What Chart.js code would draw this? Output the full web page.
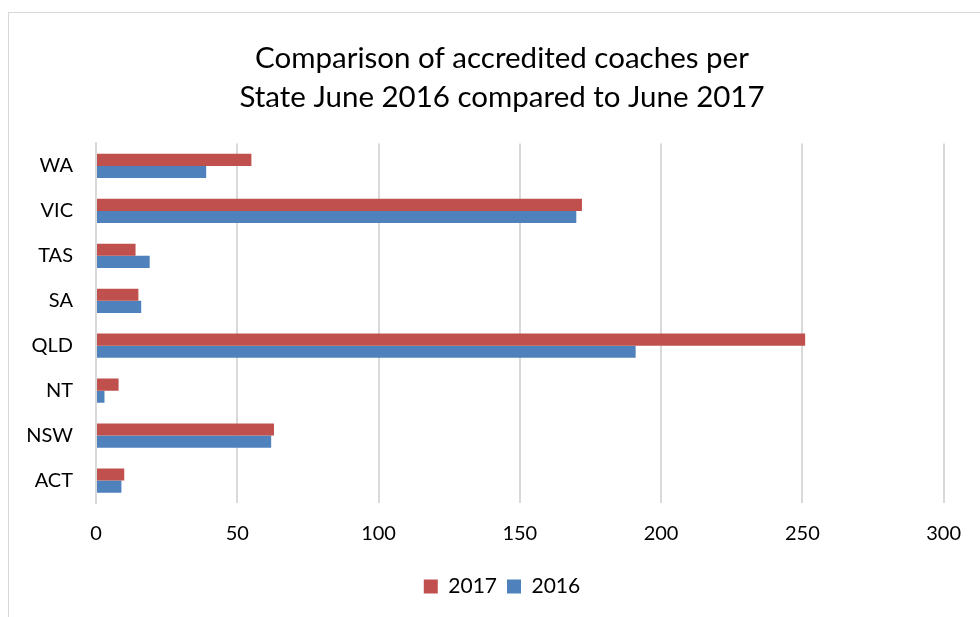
<!DOCTYPE html>
<html>
<head>
<meta charset="utf-8">
<script src="https://cdn.jsdelivr.net/npm/chart.js@4/dist/chart.umd.min.js"></script>
<style>
  html, body { margin: 0; padding: 0; background: #fff; }
  #frame {
    position: absolute; left: 8px; top: 12px;
    width: 1100px; height: 800px;
    border: 1px solid #d9d9d9;
  }
  #wrap { position: absolute; left: 0; top: 0; width: 980px; height: 617px; }
</style>
</head>
<body>
<div id="frame"></div>
<div id="wrap"><canvas id="barChart" width="980" height="617"></canvas></div>
<script>
const states = ["WA", "VIC", "TAS", "SA", "QLD", "NT", "NSW", "ACT"];
const coaches2017 = [55, 172, 14, 15, 251, 8, 63, 10];
const coaches2016 = [39, 170, 19, 16, 191, 3, 62, 9];
const xTicks = [0, 50, 100, 150, 200, 250, 300];

const fontFamily = "Lato, 'Open Sans', sans-serif";

const data = {
    labels: states,
    datasets: [{
        label: "2017",
        data: coaches2017,
        backgroundColor: "#C0504D",
        borderWidth: 0,
        categoryPercentage: 0.54,
        barPercentage: 1.0
    }, {
        label: "2016",
        data: coaches2016,
        backgroundColor: "#4F81BD",
        borderWidth: 0,
        categoryPercentage: 0.54,
        barPercentage: 1.0
    }]
};

const config = {
    type: 'bar',
    data: data,
    options: {
        indexAxis: 'y',
        responsive: false,
        animation: false,
        layout: { padding: { top: 0, left: 24, right: 0, bottom: 10 } },
        plugins: {
            title: {
                display: true,
                text: ["Comparison of accredited coaches per", "State June 2016 compared to June 2017"],
                color: "#000",
                font: { family: fontFamily, size: 29.5, weight: 'normal', lineHeight: 1.33 },
                padding: { top: 39, bottom: 26 }
            },
            legend: {
                position: 'bottom',
                labels: {
                    color: "#000",
                    font: { family: fontFamily, size: 21 },
                    boxWidth: 14,
                    boxHeight: 14,
                    padding: 10
                }
            },
            tooltip: { enabled: false }
        },
        scales: {
            x: {
                min: 0,
                max: 300,
                afterBuildTicks: (scale) => {
                    scale.ticks = xTicks.map(v => ({ value: v }));
                },
                afterFit: (scale) => { scale.height += 1; },
                grid: { color: "#d9d9d9", lineWidth: 2, drawTicks: false },
                border: { display: false },
                ticks: { color: "#000", font: { family: fontFamily, size: 20 }, padding: 19 }
            },
            y: {
                afterFit: (scale) => { scale.width = 72; },
                grid: { display: false, drawTicks: false },
                border: { display: true, color: "#d9d9d9", width: 2 },
                ticks: { color: "#000", font: { family: fontFamily, size: 20 }, padding: 23 }
            },
            // empty right-hand spacer so the plot ends at 300 with room to spare
            yRight: {
                type: 'category',
                position: 'right',
                afterFit: (scale) => { scale.width = 32; },
                grid: { display: false, drawTicks: false },
                border: { display: false },
                ticks: { display: false }
            }
        }
    }
};

const ctx = document.getElementById('barChart');
new Chart(ctx, config);
</script>
</body>
</html>
